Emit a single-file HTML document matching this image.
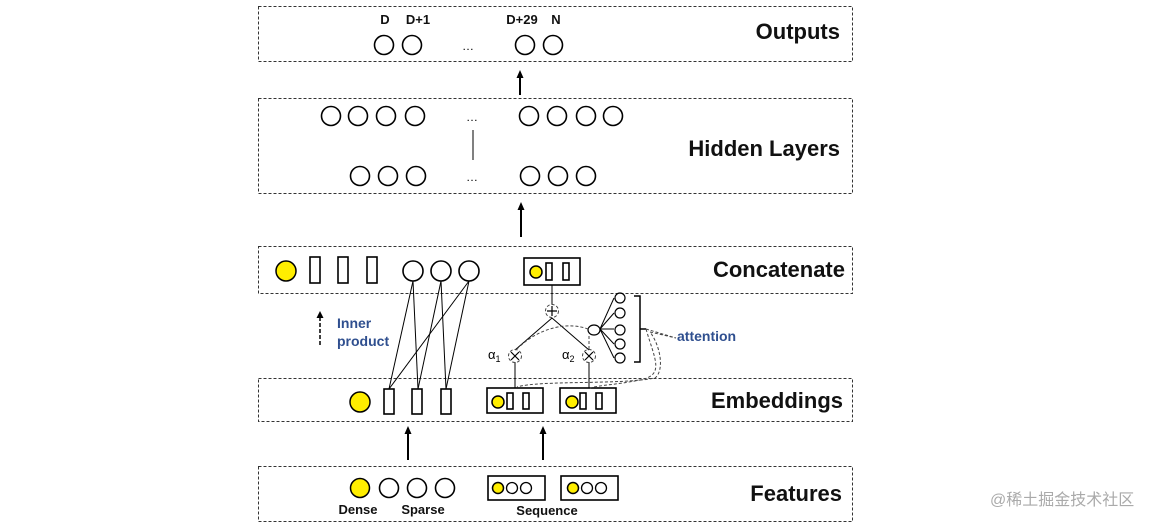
<!DOCTYPE html>
<html><head><meta charset="utf-8"><style>
html,body{margin:0;padding:0;background:#fff;}
svg{display:block}
text{font-family:"Liberation Sans","DejaVu Sans",sans-serif;}
.L{font-size:22px;font-weight:bold;text-anchor:end;fill:#111}
.s{font-size:13px;font-weight:bold;fill:#111;text-anchor:middle}
</style></head><body>
<svg width="1169" height="529" viewBox="0 0 1169 529" xmlns="http://www.w3.org/2000/svg">
<defs><marker id="ar" markerUnits="userSpaceOnUse" markerWidth="8" markerHeight="8" refX="1" refY="4" orient="auto"><path d="M0,0.5 L8,4 L0,7.5 z" fill="#000"/></marker></defs>
<g fill="none" stroke="#333" stroke-width="1" stroke-dasharray="3,2">
<rect x="258.5" y="6.5" width="594" height="55"/>
<rect x="258.5" y="98.5" width="594" height="95"/>
<rect x="258.5" y="246.5" width="594" height="47"/>
<rect x="258.5" y="378.5" width="594" height="43"/>
<rect x="258.5" y="466.5" width="594" height="55"/>
</g>
<text class="L" x="840" y="39">Outputs</text>
<text class="L" x="840" y="156">Hidden Layers</text>
<text class="L" x="845" y="277">Concatenate</text>
<text class="L" x="843" y="408">Embeddings</text>
<text class="L" x="842" y="501">Features</text>
<g fill="none" stroke="#000" stroke-width="1.6">
<circle cx="384" cy="45" r="9.5"/><circle cx="412" cy="45" r="9.5"/><circle cx="525" cy="45" r="9.5"/><circle cx="553" cy="45" r="9.5"/>
<circle cx="331" cy="116" r="9.5"/><circle cx="358" cy="116" r="9.5"/><circle cx="386" cy="116" r="9.5"/><circle cx="415" cy="116" r="9.5"/>
<circle cx="529" cy="116" r="9.5"/><circle cx="557" cy="116" r="9.5"/><circle cx="586" cy="116" r="9.5"/><circle cx="613" cy="116" r="9.5"/>
<circle cx="360" cy="176" r="9.5"/><circle cx="388" cy="176" r="9.5"/><circle cx="416" cy="176" r="9.5"/>
<circle cx="530" cy="176" r="9.5"/><circle cx="558" cy="176" r="9.5"/><circle cx="586" cy="176" r="9.5"/>
<line x1="473" y1="130" x2="473" y2="160" stroke-width="1"/>
<rect x="310" y="257" width="10" height="26"/><rect x="338" y="257" width="10" height="26"/><rect x="367" y="257" width="10" height="26"/>
<circle cx="413" cy="271" r="10"/><circle cx="441" cy="271" r="10"/><circle cx="469" cy="271" r="10"/>
<rect x="524" y="258" width="56" height="27"/><rect x="546" y="263" width="6" height="17"/><rect x="563" y="263" width="6" height="17"/>
<rect x="384" y="389" width="10" height="25"/><rect x="412" y="389" width="10" height="25"/><rect x="441" y="389" width="10" height="25"/>
<rect x="487" y="388" width="56" height="25"/><rect x="507" y="393" width="6" height="16"/><rect x="523" y="393" width="6" height="16"/>
<rect x="560" y="388" width="56" height="25"/><rect x="580" y="393" width="6" height="16"/><rect x="596" y="393" width="6" height="16"/>
<circle cx="389" cy="488" r="9.5"/><circle cx="417" cy="488" r="9.5"/><circle cx="445" cy="488" r="9.5"/>
<rect x="488" y="476" width="57" height="24"/><rect x="561" y="476" width="57" height="24"/>
</g>
<g fill="none" stroke="#000" stroke-width="1.3">
<circle cx="512" cy="488" r="5.5"/><circle cx="526" cy="488" r="5.5"/><circle cx="587" cy="488" r="5.5"/><circle cx="601" cy="488" r="5.5"/>
</g>
<g fill="#ffee00" stroke="#000" stroke-width="1.5">
<circle cx="286" cy="271" r="10"/><circle cx="360" cy="402" r="10"/><circle cx="360" cy="488" r="9.5"/>
<circle cx="536" cy="272" r="6"/><circle cx="498" cy="402" r="6"/><circle cx="572" cy="402" r="6"/>
<circle cx="498" cy="488" r="5.5"/><circle cx="573" cy="488" r="5.5"/>
</g>
<g stroke="#000" stroke-width="1">
<line x1="413" y1="281" x2="389" y2="389"/><line x1="413" y1="281" x2="418" y2="389"/>
<line x1="441" y1="281" x2="418" y2="389"/><line x1="441" y1="281" x2="446" y2="389"/>
<line x1="469" y1="281" x2="389" y2="389"/><line x1="469" y1="281" x2="446" y2="389"/>
<line x1="552" y1="285" x2="552" y2="305"/>
<line x1="552" y1="318" x2="515" y2="350"/><line x1="552" y1="318" x2="589" y2="350"/>
<line x1="515" y1="362" x2="515" y2="388"/><line x1="589" y1="362" x2="589" y2="388"/>
<line x1="600" y1="329" x2="614" y2="298"/><line x1="600" y1="329" x2="614" y2="313"/><line x1="600" y1="329" x2="614" y2="329"/><line x1="600" y1="329" x2="614" y2="344"/><line x1="600" y1="329" x2="614" y2="358"/>
</g>
<g fill="none" stroke="#000" stroke-width="1.2">
<ellipse cx="594" cy="330" rx="6" ry="5"/>
<circle cx="620" cy="298" r="5"/><circle cx="620" cy="313" r="5"/><circle cx="620" cy="330" r="5"/><circle cx="620" cy="344" r="5"/><circle cx="620" cy="358" r="5"/>
<path d="M634,296 H640 V362 H634 M640,329 H646" stroke-width="1.5"/>
</g>
<g fill="none" stroke="#444" stroke-width="1" stroke-dasharray="3,2">
<circle cx="552" cy="311" r="6.5"/><circle cx="515" cy="356" r="6.5"/><circle cx="589" cy="356" r="6.5"/>
<path d="M588,329 C570,322 540,326 517,349"/>
<path d="M589,336 V349"/>
<path d="M646,329 L676,338 L650,332 C660,345 665,370 655,378 C620,385 540,380 517,387"/>
<path d="M646,329 C655,360 665,375 640,380 C615,385 600,385 590,388"/>
</g>
<g stroke="#000" stroke-width="1.2">
<path d="M552,306 V316 M547,311 H557 M511,352 L519,360 M519,352 L511,360 M585,352 L593,360 M593,352 L585,360"/>
</g>
<g stroke="#000" stroke-width="2" marker-end="url(#ar)">
<line x1="520" y1="95" x2="520" y2="77"/>
<line x1="521" y1="237" x2="521" y2="209"/>
<line x1="408" y1="460" x2="408" y2="433"/>
<line x1="543" y1="460" x2="543" y2="433"/>
</g>
<line x1="320" y1="345" x2="320" y2="318" stroke="#000" stroke-width="1.5" stroke-dasharray="4,2"/>
<path d="M316.5,318 L320,311 L323.5,318 z" fill="#000"/>
<text class="s" x="385" y="24">D</text><text class="s" x="418" y="24">D+1</text><text class="s" x="522" y="24">D+29</text><text class="s" x="556" y="24">N</text>
<text x="468" y="50" font-size="12" text-anchor="middle">…</text>
<text x="472" y="121" font-size="12" text-anchor="middle">…</text>
<text x="472" y="181" font-size="12" text-anchor="middle">…</text>
<text x="337" y="328" font-size="14" font-weight="bold" fill="#2f4f8f">Inner</text>
<text x="337" y="346" font-size="14" font-weight="bold" fill="#2f4f8f">product</text>
<text x="677" y="341" font-size="14" font-weight="bold" fill="#2f4f8f">attention</text>
<text x="488" y="359" font-size="13">α<tspan font-size="9" dy="3">1</tspan></text>
<text x="562" y="359" font-size="13">α<tspan font-size="9" dy="3">2</tspan></text>
<text class="s" x="358" y="514">Dense</text><text class="s" x="423" y="514">Sparse</text><text class="s" x="547" y="515">Sequence</text>
<text x="990" y="505" font-size="16" fill="#aaa" font-family="'Liberation Sans','Noto Sans CJK SC',sans-serif">@稀土掘金技术社区</text>
</svg>
</body></html>
